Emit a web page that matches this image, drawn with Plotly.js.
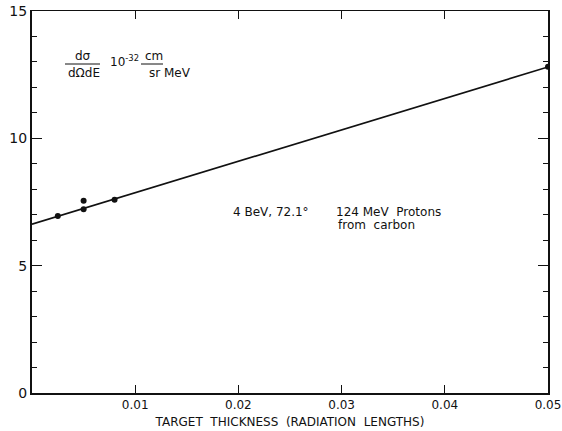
<!DOCTYPE html>
<html>
<head>
<meta charset="utf-8">
<script src="https://cdn.plot.ly/plotly-3.0.1.min.js"></script>
<style>html,body{margin:0;padding:0;background:#fff;}#chart{width:562px;height:431px;}</style>
</head>
<body>
<div id="chart"></div>
<script>
// Measured points: target thickness (radiation lengths) vs cross section (10^-32 cm^2/sr MeV)
var thickness = [0.0025, 0.0050, 0.0050, 0.0080, 0.0500];
var crossSection = [6.95, 7.22, 7.55, 7.59, 12.81];
// Straight-line fit drawn through the points
var fitX = [0, 0.05];
var fitY = [6.63, 12.80];
// Axis ticks
var xTickVals = [0.01, 0.02, 0.03, 0.04, 0.05];
var xTickText = ["0.01", "0.02", "0.03", "0.04", "0.05"];
var yTickVals = [0, 5, 10, 15];
var yTickText = ["0", "5", "10", "15"];

var FONT = "DejaVu Sans, Liberation Sans, sans-serif";
var traces = [
  {x: fitX, y: fitY, mode: "lines", line: {color: "#111", width: 1.6}, hoverinfo: "skip", showlegend: false},
  {x: thickness, y: crossSection, mode: "markers", marker: {color: "#111", size: 6}, showlegend: false}
];

function ann(text, x, y, xanchor, size) {
  return {text: text, x: x, y: y, xref: "paper", yref: "paper", xanchor: xanchor || "center", yanchor: "middle",
          showarrow: false, font: {family: FONT, size: size || 11, color: "#111"}};
}
function px(x) { return (x - 32) / 516; }
function py(y) { return (393 - y) / 382; }

var layout = {
  width: 562, height: 431,
  margin: {l: 32, r: 14, t: 11, b: 38},
  paper_bgcolor: "#fff", plot_bgcolor: "#fff",
  font: {family: FONT, color: "#111"},
  xaxis: {
    range: [0, 0.05], tickvals: xTickVals, ticktext: xTickText,
    ticks: "inside", ticklen: 8, tickwidth: 1.2, tickcolor: "#111",
    showline: true, linecolor: "#111", linewidth: 1.5, mirror: "allticks",
    showgrid: false, zeroline: false,
    tickfont: {family: FONT, size: 12, color: "#111"},
    title: {text: "TARGET  THICKNESS  (RADIATION  LENGTHS)", font: {family: FONT, size: 12, color: "#111"}, standoff: 6}
  },
  yaxis: {
    range: [0, 15], tickvals: yTickVals, ticktext: yTickText,
    ticks: "inside", ticklen: 10, tickwidth: 1.2, tickcolor: "#111",
    minor: {dtick: 1, ticks: "inside", ticklen: 5, tickwidth: 1, tickcolor: "#111", showgrid: false},
    showline: true, linecolor: "#111", linewidth: 2, mirror: "allticks",
    showgrid: false, zeroline: false,
    tickfont: {family: FONT, size: 14, color: "#111"}
  },
  shapes: [
    {type: "line", xref: "paper", yref: "paper", x0: px(65), x1: px(100), y0: py(64), y1: py(64), line: {color: "#111", width: 1}},
    {type: "line", xref: "paper", yref: "paper", x0: px(141), x1: px(163), y0: py(64), y1: py(64), line: {color: "#111", width: 1}}
  ],
  annotations: [
    ann("dσ", px(83), py(56), "center", 12),
    ann("dΩdE", px(84), py(73), "center", 12),
    ann("10<sup>-32</sup>", px(108), py(61), "left", 12),
    ann("cm", px(143), py(56), "left", 12),
    ann("sr MeV", px(147), py(73), "left", 12),
    ann("4 BeV, 72.1°", px(231), py(212), "left", 12),
    ann("124 MeV  Protons", px(334), py(212), "left", 12),
    ann("from  carbon", px(376), py(225), "center", 12)
  ]
};
Plotly.newPlot("chart", traces, layout, {displayModeBar: false, staticPlot: true});
</script>
</body>
</html>
